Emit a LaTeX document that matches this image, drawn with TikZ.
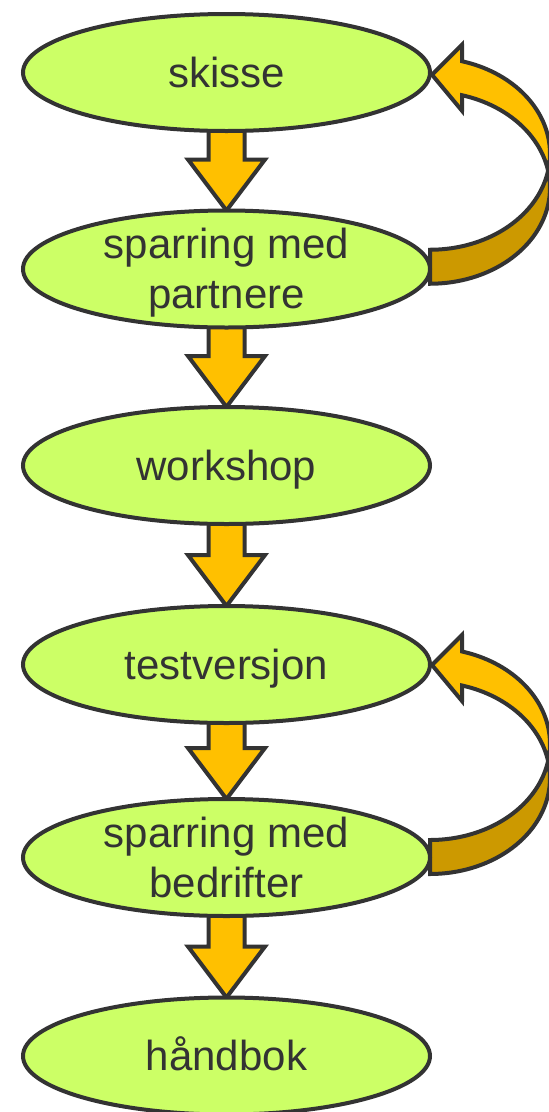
\documentclass[tikz,border=0pt]{standalone}
\usepackage{fontspec}
\setmainfont{Liberation Sans}
\usetikzlibrary{shapes.geometric,calc,backgrounds}

\definecolor{stagefill}{HTML}{CCFF66}
\definecolor{outline}{HTML}{333333}
\definecolor{arrowfill}{HTML}{FFC000}
\definecolor{backfill}{HTML}{CC9900}

\newcommand{\stagetext}[1]{\vbox to 0pt{\vss\let\\\cr
  \halign{\hfil\rule[-9pt]{0pt}{47pt}##\hfil\cr#1\crcr}\vss}}

\tikzset{
  stage/.style={ellipse, draw=outline, fill=stagefill, line width=4pt,
    minimum width=407pt, minimum height=117pt, inner sep=0pt, outer sep=0pt,
    text=outline, font=\fontsize{42}{50}\selectfont},
  flow/.style={draw=outline, fill=arrowfill, line width=4pt},
  loopfront/.style={draw=outline, fill=arrowfill, line width=4pt, samples=40},
  loopback/.style={draw=outline, fill=backfill, line width=4pt, samples=40},
}

\begin{document}
\begin{tikzpicture}[x=1pt, y=-1pt]
  \useasboundingbox (0,0) rectangle (549,1112);
  \node[stage] (skisse) at (226.5, 72.5) {\stagetext{skisse}};
  \node[stage] (partnere) at (226.5, 269) {\stagetext{sparring med\\partnere}};
  \node[stage] (workshop) at (226.5, 465.5) {\stagetext{workshop}};
  \node[stage] (testversjon) at (226.5, 664.5) {\stagetext{testversjon}};
  \node[stage] (bedrifter) at (226.5, 857.5) {\stagetext{sparring med\\bedrifter}};
  \node[stage] (handbok) at (226.5, 1056) {\stagetext{håndbok}};
  \begin{scope}[on background layer]
    % block arrows between the stages
    \foreach \a/\b in {skisse/partnere, partnere/workshop, workshop/testversjon,
                       testversjon/bedrifter, bedrifter/handbok}
      \draw[flow] (\b.north) -- ++(-38.5,-51) -- ++(20.5,0)
        -- ($(\a.south)+(-18,-6)$) -- ++(36,0)
        -- ($(\b.north)+(18,-51)$) -- ++(20.5,0) -- cycle;
    % curved arrows back
    \foreach \a/\b in {skisse/partnere, testversjon/bedrifter} {
      \coordinate (mid) at ($(\a.east)!0.5!(\b.east)$);
      \begin{scope}[shift={(mid)}]
        \draw[loopback] plot[domain=90:10.2] ({120*cos(\x)}, {-17+96*sin(\x)})
          -- plot[domain=-10.2:90] ({120*cos(\x)}, {17+96*sin(\x)}) -- cycle;
        \draw[loopfront] plot[domain=-74.5:10.2] ({120*cos(\x)}, {-17+96*sin(\x)})
          -- plot[domain=-10.2:-74.5] ({120*cos(\x)}, {17+96*sin(\x)})
          -- (32,-60) -- (2,-96) -- (32,-126) -- cycle;
      \end{scope}
    }
  \end{scope}
\end{tikzpicture}
\end{document}
